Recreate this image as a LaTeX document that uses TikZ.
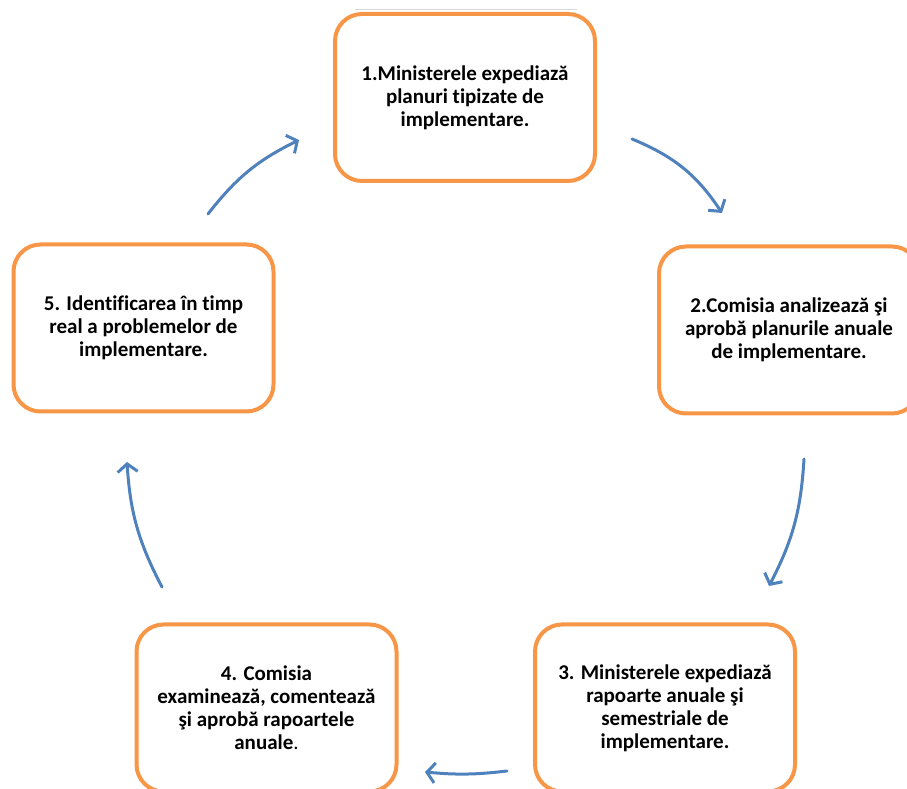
\documentclass[tikz,border=0pt]{standalone}
\usepackage{fontspec}
\setmainfont{Carlito}[Ligatures=NoCommon]
\usetikzlibrary{arrows.meta,positioning,calc}
\definecolor{CYOrange}{HTML}{F79646}
\definecolor{CYBlue}{HTML}{4F81BD}
\definecolor{CYInk}{HTML}{000000}
\definecolor{CYRule}{HTML}{D9D9D9}
\tikzset{
  cycleflow/.style={-{Straight Barb[length=8pt,width=20pt]},CYBlue,line width=3pt,
                    line cap=round,bend left=14},
  stagebox/.style={draw=CYOrange,line width=4pt,fill=white,rounded corners=27pt,
                   minimum width=260pt,minimum height=167pt,text=CYInk,align=center,
                   font=\fontsize{21}{23}\selectfont\bfseries},
}

\begin{document}
\begin{tikzpicture}[x=1pt,y=1pt]
    \useasboundingbox (0,0) rectangle (907,789);

    % ------------------------------------------------------------ thin top rule
    \coordinate (rulea) at (355,780);
    \coordinate (ruleb) at (577,780);
    \draw[CYRule,line width=0.8pt] (rulea) -- (ruleb);

    % ------------------------------------------------------------ five stages
    \node[stagebox] (send)   at (465,691.5) {1.Ministerele expediază\\planuri tipizate de\\implementare.};
    \node[stagebox] (review) at (789,459)   {2.Comisia analizează şi\\aprobă planurile anuale\\de implementare.};
    \node[stagebox] (report) at (665,81)    {3. Ministerele expediază\\rapoarte anuale şi\\semestriale de\\implementare.};
    \node[stagebox] (assess) at (266.5,81)  {4. Comisia\\examinează, comentează\\şi aprobă rapoartele\\anuale\textmd{.}};
    \node[stagebox] (detect) at (143.5,461) {5. Identificarea în timp\\real a problemelor de\\implementare.};

    % ------------------------------------------------------------ arrow ends
    \coordinate (s1) at (632,650); \coordinate (e1) at (722,576);
    \coordinate (s2) at (804,330); \coordinate (e2) at (769,203);
    \coordinate (s3) at (507,18);  \coordinate (e3) at (425,17);
    \coordinate (s4) at (162,202); \coordinate (e4) at (127,327);
    \coordinate (s5) at (208,575); \coordinate (e5) at (299,649);

    % ------------------------------------------------------------ cycle
    \draw[cycleflow,bend left=17] (s1) to (e1);
    \draw[cycleflow,bend left=12] (s2) to (e2);
    \draw[cycleflow,bend left=6]  (s3) to (e3);
    \draw[cycleflow,bend left=12] (s4) to (e4);
    \draw[cycleflow,bend left=13] (s5) to (e5);
  \end{tikzpicture}
\end{document}
